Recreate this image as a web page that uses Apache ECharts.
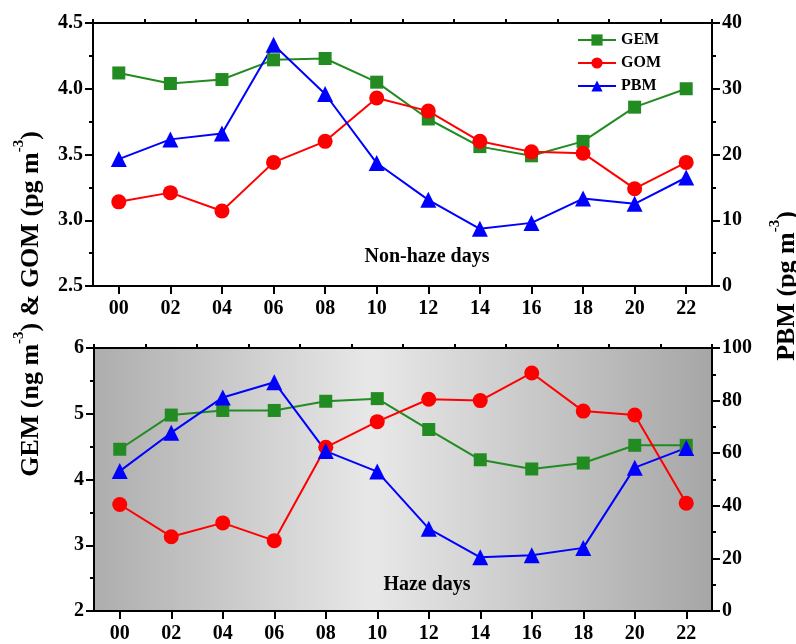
<!DOCTYPE html>
<html>
<head>
<meta charset="utf-8">
<script src="https://cdn.jsdelivr.net/npm/echarts@6/dist/echarts.min.js"></script>
<style>html,body{margin:0;padding:0;background:#fff}#c{width:796px;height:644px}</style>
</head>
<body>
<div id="c"></div>
<script>
const hours = ['00','02','04','06','08','10','12','14','16','18','20','22'];
const gemNonHaze = [4.12, 4.04, 4.07, 4.22, 4.23, 4.05, 3.77, 3.56, 3.49, 3.60, 3.86, 4.00];
const gomNonHaze = [3.14, 3.21, 3.07, 3.44, 3.60, 3.93, 3.83, 3.60, 3.52, 3.51, 3.24, 3.44];
const pbmNonHaze = [19.3, 22.3, 23.2, 36.7, 29.2, 18.7, 13.1, 8.7, 9.6, 13.3, 12.5, 16.5];
const gemHaze = [4.46, 4.98, 5.05, 5.05, 5.19, 5.23, 4.76, 4.30, 4.16, 4.25, 4.52, 4.52];
const gomHaze = [3.62, 3.13, 3.34, 3.07, 4.49, 4.88, 5.22, 5.20, 5.62, 5.04, 4.98, 3.64];
const pbmHaze = [53.2, 67.8, 81.2, 87.0, 60.8, 53.0, 31.3, 20.4, 21.2, 24.0, 54.5, 62.0];

const FONT = '"Liberation Serif", "Times New Roman", serif';
const GREEN = '#228b22', RED = '#ff0000', BLUE = '#0000ff';

const chart = echarts.init(document.getElementById('c'), null, {renderer: 'canvas'});

function catAxis(grid, withLabels) {
  return {
    type: 'category', gridIndex: grid, data: hours, boundaryGap: true,
    axisLine: {show: withLabels, lineStyle: {color: '#000', width: 2}},
    axisTick: withLabels
      ? {show: true, alignWithLabel: true, inside: false, length: 8, lineStyle: {color: '#000', width: 2}}
      : {show: true, alignWithLabel: false, inside: false, length: 4, lineStyle: {color: '#000', width: 2}},
    axisLabel: {show: withLabels, fontFamily: FONT, fontWeight: 'bold', fontSize: 20, color: '#000', margin: 13},
    splitLine: {show: false}
  };
}
function valAxis(grid, pos, min, max, interval, decimals) {
  return {
    type: 'value', gridIndex: grid, position: pos, min: min, max: max, interval: interval,
    axisLine: {show: true, lineStyle: {color: '#000', width: 2}},
    axisTick: {show: true, inside: false, length: 8, lineStyle: {color: '#000', width: 2}},
    minorTick: {show: true, splitNumber: 2, length: 4, lineStyle: {color: '#000', width: 2}},
    axisLabel: {fontFamily: FONT, fontWeight: 'bold', fontSize: 20, color: '#000', margin: 10,
      formatter: v => v.toFixed(decimals)},
    splitLine: {show: false}
  };
}
function line(name, data, x, y, color, symbol, size) {
  return {
    name: name, type: 'line', xAxisIndex: x, yAxisIndex: y, data: data,
    symbol: symbol, symbolSize: size,
    lineStyle: {color: color, width: 2},
    itemStyle: {color: color, borderWidth: 0},
    z: 3
  };
}

const option = {
  animation: false,
  backgroundColor: '#fff',
  grid: [
    {left: 93, right: 84, top: 23, height: 263, show: true, borderColor: '#000', borderWidth: 2, backgroundColor: '#fff'},
    {left: 94, right: 84, top: 348, height: 265, show: true, borderColor: '#000', borderWidth: 2,
      backgroundColor: {type: 'linear', x: 0, y: 0, x2: 1, y2: 0,
        colorStops: [{offset: 0, color: '#adadad'}, {offset: 0.45, color: '#e8e8e8'}, {offset: 1, color: '#a6a6a6'}]}}
  ],
  xAxis: [catAxis(0, true), catAxis(0, false), catAxis(1, true), catAxis(1, false)],
  yAxis: [
    valAxis(0, 'left', 2.5, 4.5, 0.5, 1),
    valAxis(0, 'right', 0, 40, 10, 0),
    valAxis(1, 'left', 2, 6, 1, 0),
    valAxis(1, 'right', 0, 100, 20, 0)
  ],
  legend: {
    orient: 'vertical', left: 572, top: 27, itemWidth: 38, itemHeight: 14, itemGap: 7,
    textStyle: {fontFamily: FONT, fontWeight: 'bold', fontSize: 16, color: '#000'},
    data: ['GEM', 'GOM', 'PBM']
  },
  series: [
    line('GEM', gemNonHaze, 0, 0, GREEN, 'rect', 13),
    line('GOM', gomNonHaze, 0, 0, RED, 'circle', 15),
    line('PBM', pbmNonHaze, 0, 1, BLUE, 'triangle', 16),
    line('GEM', gemHaze, 2, 2, GREEN, 'rect', 13),
    line('GOM', gomHaze, 2, 2, RED, 'circle', 15),
    line('PBM', pbmHaze, 2, 3, BLUE, 'triangle', 16)
  ],
  graphic: [
    {type: 'text', x: 427, y: 257, style: {text: 'Non-haze days', fontFamily: FONT, fontWeight: 'bold', fontSize: 20, fill: '#000', align: 'center', verticalAlign: 'middle'}},
    {type: 'text', x: 427, y: 585, style: {text: 'Haze days', fontFamily: FONT, fontWeight: 'bold', fontSize: 20, fill: '#000', align: 'center', verticalAlign: 'middle'}},
    {type: 'text', x: 28, y: 304, rotation: Math.PI / 2,
      style: {text: '{a|GEM (ng m}{s|-3}{a|) & GOM (pg m}{s|-3}{a|)}', align: 'center', verticalAlign: 'middle',
        rich: {a: {fontFamily: FONT, fontWeight: 'bold', fontSize: 26, fill: '#000', lineHeight: 32, verticalAlign: 'bottom'},
               s: {fontFamily: FONT, fontWeight: 'bold', fontSize: 15, fill: '#000', lineHeight: 32, verticalAlign: 'top'}}}},
    {type: 'text', x: 784, y: 286, rotation: Math.PI / 2,
      style: {text: '{a|PBM (pg m}{s|-3}{a|)}', align: 'center', verticalAlign: 'middle',
        rich: {a: {fontFamily: FONT, fontWeight: 'bold', fontSize: 26, fill: '#000', lineHeight: 32, verticalAlign: 'bottom'},
               s: {fontFamily: FONT, fontWeight: 'bold', fontSize: 15, fill: '#000', lineHeight: 32, verticalAlign: 'top'}}}}
  ]
};
chart.setOption(option);
</script>
</body>
</html>
